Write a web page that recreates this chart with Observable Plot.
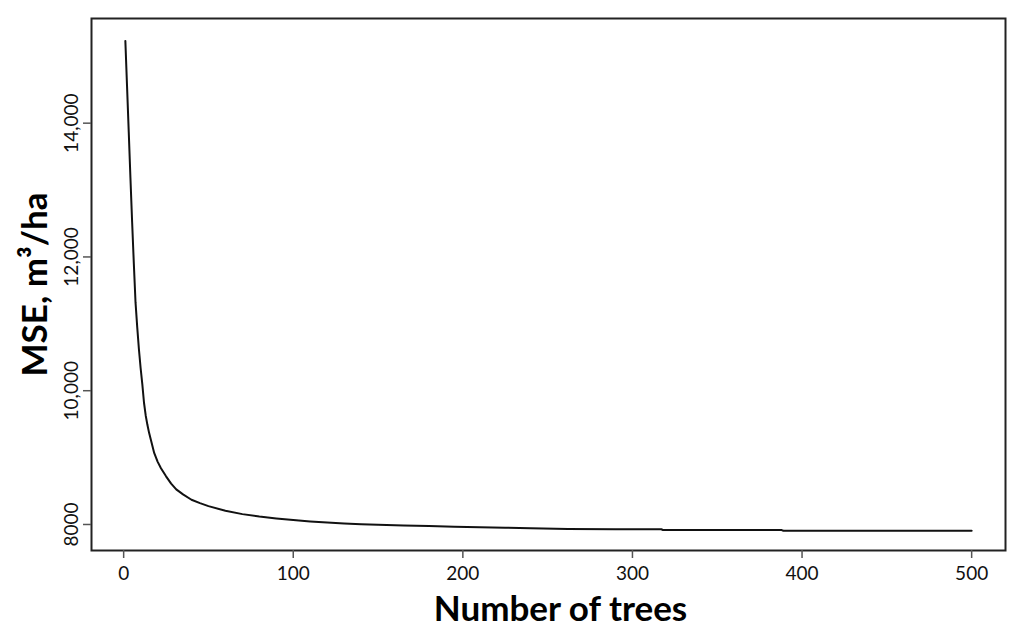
<!DOCTYPE html>
<html>
<head>
<meta charset="utf-8">
<script src="https://cdn.jsdelivr.net/npm/d3@7"></script>
<script src="https://cdn.jsdelivr.net/npm/@observablehq/plot@0.6"></script>
<style>
  html, body { margin: 0; padding: 0; background: #fff; }
  #chart { width: 1024px; height: 637px; }
</style>
</head>
<body>
<div id="chart"></div>
<script>
const trees = [1, 2, 3, 4, 5, 6, 7, 8, 9, 10, 11, 12, 13, 14, 15, 16, 18, 20, 22, 25, 28, 31, 35, 40, 45, 50, 60, 70, 80, 90, 100, 110, 120, 130, 140, 150, 165, 180, 195, 210, 225, 240, 262, 290, 317, 318, 350, 388, 389, 420, 460, 500];
const mse = [15230, 14550, 13870, 13180, 12520, 11900, 11320, 10950, 10620, 10340, 10100, 9820, 9630, 9490, 9370, 9270, 9070, 8940, 8840, 8720, 8610, 8525, 8450, 8370, 8320, 8275, 8205, 8155, 8118, 8090, 8066, 8045, 8028, 8015, 8004, 7995, 7985, 7976, 7967, 7959, 7951, 7944, 7932, 7930, 7929, 7918, 7917, 7916, 7906, 7906, 7906, 7906];
const xTicks = [0, 100, 200, 300, 400, 500];
const yTicks = [8000, 10000, 12000, 14000];
const xTitle = "Number of trees";
const yTitle = "MSE, m³/ha";

const data = trees.map((t, i) => ({trees: t, mse: mse[i]}));
const yFmt = d => d < 10000 ? String(d) : d3.format(",")(d);

const chart = Plot.plot({
  width: 1024,
  height: 637,
  marginLeft: 91,
  marginRight: 19,
  marginTop: 18,
  marginBottom: 87,
  style: {fontFamily: "Lato, 'Open Sans', sans-serif", background: "#fff", color: "#000"},
  x: {domain: [-18.96, 519.96]},
  y: {domain: [7611, 15565]},
  marks: [
    Plot.frame({stroke: "#222", strokeWidth: 2}),
    Plot.axisX({ticks: xTicks, tickSize: 8, tickPadding: 8, fontSize: 19, label: null, stroke: "#555", strokeWidth: 1.5, fill: "#111", anchor: "bottom"}),
    Plot.axisY({ticks: yTicks, tickSize: 8, tickPadding: 6, tickRotate: -90, tickFormat: yFmt, fontSize: 19, label: null, stroke: "#555", strokeWidth: 1.5, fill: "#111", anchor: "left"}),
    Plot.line(data, {x: "trees", y: "mse", stroke: "#111", strokeWidth: 2}),
    Plot.text([xTitle], {frameAnchor: "bottom", textAnchor: "middle", dx: 12, dy: 70, fontSize: 35, fontWeight: "bold", fill: "#000", fontFamily: "Lato, sans-serif"}),
    Plot.text([yTitle], {frameAnchor: "left", textAnchor: "middle", dx: -56, rotate: -90, fontSize: 35, fontWeight: "bold", fill: "#000", fontFamily: "Lato, sans-serif"})
  ]
});
document.getElementById("chart").appendChild(chart);
</script>
</body>
</html>
